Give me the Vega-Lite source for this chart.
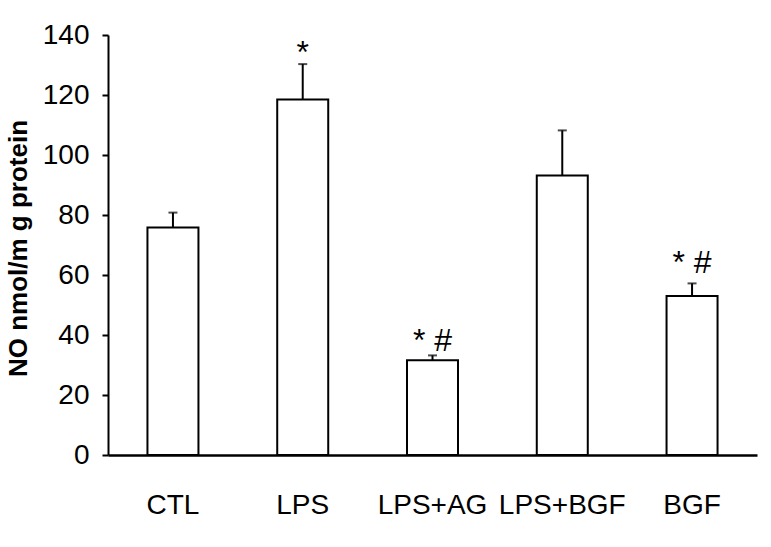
{
  "$schema": "https://vega.github.io/schema/vega-lite/v6.json",
  "width": 649,
  "height": 420,
  "autosize": {"type": "none"},
  "padding": {"left": 108, "top": 35, "right": 14, "bottom": 92},
  "background": "white",
  "config": {
    "view": {"stroke": null},
    "axis": {"grid": false, "domainColor": "black", "tickColor": "black", "labelColor": "black", "titleColor": "black"}
  },
  "data": {
    "values": [
      {"group": "CTL", "value": 75.8, "upper": 80.8, "sig": "", "sigY": 0},
      {"group": "LPS", "value": 118.5, "upper": 130.3, "sig": "*", "sigY": 134},
      {"group": "LPS+AG", "value": 31.6, "upper": 33.2, "sig": "* #", "sigY": 38},
      {"group": "LPS+BGF", "value": 93.2, "upper": 108.2, "sig": "", "sigY": 0},
      {"group": "BGF", "value": 53, "upper": 57.2, "sig": "* #", "sigY": 64}
    ]
  },
  "encoding": {
    "x": {
      "field": "group", "type": "nominal", "sort": null,
      "scale": {"paddingInner": 0.607, "paddingOuter": 0.304},
      "axis": {
        "title": null, "labelAngle": 0, "ticks": false, "domainWidth": 2.5,
        "labelFont": "Liberation Sans", "labelFontSize": 28,
        "labelPadding": 36
      }
    }
  },
  "layer": [
    {
      "mark": {"type": "rule", "stroke": "black", "strokeWidth": 2},
      "encoding": {
        "y": {"field": "value", "type": "quantitative"},
        "y2": {"field": "upper"}
      }
    },
    {
      "mark": {"type": "tick", "color": "black", "thickness": 2, "size": 9},
      "encoding": {
        "y": {"field": "upper", "type": "quantitative"}
      }
    },
    {
      "mark": {"type": "bar", "fill": "white", "stroke": "black", "strokeWidth": 2},
      "encoding": {
        "y": {
          "field": "value", "type": "quantitative",
          "scale": {"domain": [0, 140], "nice": false},
          "axis": {
            "values": [0, 20, 40, 60, 80, 100, 120, 140],
            "title": "NO nmol/m g protein",
            "titleFont": "Liberation Sans", "titleFontSize": 26, "titleFontWeight": "bold",
            "titleX": -90, "titleY": 213, "titleAngle": -90, "titleAlign": "center", "titleBaseline": "middle",
            "labelFont": "Liberation Sans", "labelFontSize": 28,
            "tickSize": 6, "tickWidth": 2, "domainWidth": 2, "labelPadding": 13
          }
        }
      }
    },
    {
      "mark": {"type": "text", "font": "Liberation Sans", "fontSize": 32, "baseline": "middle", "color": "black"},
      "encoding": {
        "y": {"field": "sigY", "type": "quantitative"},
        "text": {"field": "sig"}
      }
    }
  ]
}
